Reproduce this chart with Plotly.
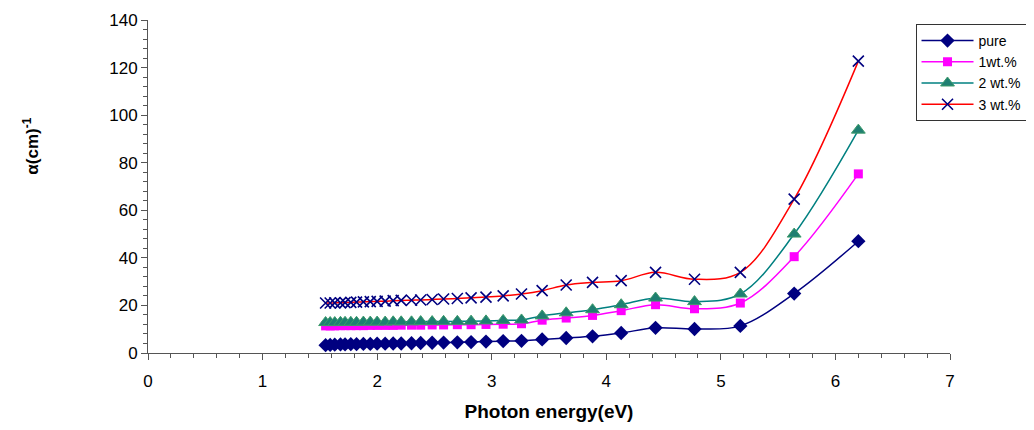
import plotly.graph_objects as go

energy = [1.55, 1.59, 1.63, 1.68, 1.72, 1.77, 1.82, 1.88, 1.94, 2.00, 2.07, 2.14,
          2.21, 2.30, 2.38, 2.48, 2.58, 2.70, 2.82, 2.95, 3.10, 3.26, 3.44, 3.65,
          3.88, 4.13, 4.43, 4.77, 5.17, 5.64, 6.20]

pure = [3.3, 3.4, 3.5, 3.6, 3.6, 3.7, 3.7, 3.8, 3.8, 3.9, 3.9, 4.0, 4.0, 4.1, 4.2,
        4.3, 4.4, 4.5, 4.6, 4.8, 5.0, 5.1, 5.7, 6.3, 7.0, 8.4, 10.6, 10.1, 11.4,
        25.0, 47.0]
wt1 = [11.4, 11.4, 11.4, 11.5, 11.5, 11.5, 11.5, 11.5, 11.6, 11.6, 11.6, 11.6,
       11.7, 11.7, 11.7, 11.8, 11.8, 11.9, 11.9, 12.0, 12.1, 12.3, 13.8, 14.7,
       15.8, 17.8, 20.3, 18.6, 21.0, 40.5, 75.3]
wt2 = [12.8, 12.8, 12.8, 12.9, 12.9, 12.9, 12.9, 13.0, 13.0, 13.0, 13.0, 13.1,
       13.1, 13.1, 13.2, 13.2, 13.3, 13.3, 13.4, 13.5, 13.7, 13.9, 15.6, 16.9,
       18.2, 20.3, 23.1, 21.6, 24.8, 50.0, 93.7]
wt3 = [21.0, 21.0, 21.1, 21.1, 21.2, 21.3, 21.4, 21.5, 21.6, 21.7, 21.8, 22.0,
       22.1, 22.2, 22.3, 22.5, 22.7, 22.9, 23.2, 23.5, 24.0, 24.8, 26.2, 28.6,
       29.7, 30.4, 33.9, 31.0, 33.9, 64.7, 122.7]

names = ["pure", "1wt.%", "2 wt.%", "3 wt.%"]

FONT = "Arial, Liberation Sans, sans-serif"

fig = go.Figure()
fig.add_trace(go.Scatter(
    x=energy, y=pure, name=names[0], mode="lines+markers",
    line=dict(color="#000080", width=1.5, shape="spline"),
    marker=dict(symbol="diamond", size=11, color="#000080")))
fig.add_trace(go.Scatter(
    x=energy, y=wt1, name=names[1], mode="lines+markers",
    line=dict(color="#FF00FF", width=1.5, shape="spline"),
    marker=dict(symbol="square", size=9, color="#FF00FF")))
fig.add_trace(go.Scatter(
    x=energy, y=wt2, name=names[2], mode="lines+markers",
    line=dict(color="#008080", width=1.5, shape="spline"),
    marker=dict(symbol="triangle-up", size=12, color="#1F7F72",
                line=dict(color="#3C9A6A", width=1))))
fig.add_trace(go.Scatter(
    x=energy, y=wt3, name=names[3], mode="lines+markers",
    line=dict(color="#FF0000", width=1.5, shape="spline"),
    marker=dict(symbol="x-thin", size=11, color="#000080",
                line=dict(color="#000080", width=1.6))))

fig.update_layout(
    width=1018, height=414,
    margin=dict(l=140, r=76, t=12, b=69, autoexpand=False),
    paper_bgcolor="white", plot_bgcolor="white",
    font=dict(family=FONT, size=15, color="black"),
    showlegend=True,
    legend=dict(x=0.957, y=0.988, xanchor="left", yanchor="top",
                bordercolor="#333333", borderwidth=1, bgcolor="white",
                font=dict(family=FONT, size=14), tracegroupgap=0,
                itemwidth=52),
    xaxis=dict(range=[0, 7], dtick=1, tick0=0, showgrid=False, zeroline=False,
               automargin=False,
               showline=True, linecolor="#555555", linewidth=1,
               ticks="outside", ticklen=6, tickcolor="#555555",
               ticklabelstandoff=7,
               minor=dict(dtick=0.2, ticks="outside", ticklen=4, tickcolor="#555555"),
               tickfont=dict(family=FONT, size=17),
               title=dict(text="<b>Photon energy(eV)</b>", standoff=16,
                          font=dict(family=FONT, size=19))),
    yaxis=dict(range=[0, 140], dtick=20, tick0=0, showgrid=False, zeroline=False,
               automargin=False,
               showline=True, linecolor="#555555", linewidth=1,
               ticks="outside", ticklen=6, tickcolor="#555555",
               minor=dict(dtick=4, ticks="outside", ticklen=4, tickcolor="#555555"),
               tickfont=dict(family=FONT, size=17)),
)

fig.add_annotation(
    text="<b>α(cm)<sup>-1</sup></b>", textangle=-90,
    xref="paper", yref="paper", x=-0.147, y=0.62,
    xanchor="center", yanchor="middle",
    showarrow=False, font=dict(family=FONT, size=17))

fig.write_html("out.html")
